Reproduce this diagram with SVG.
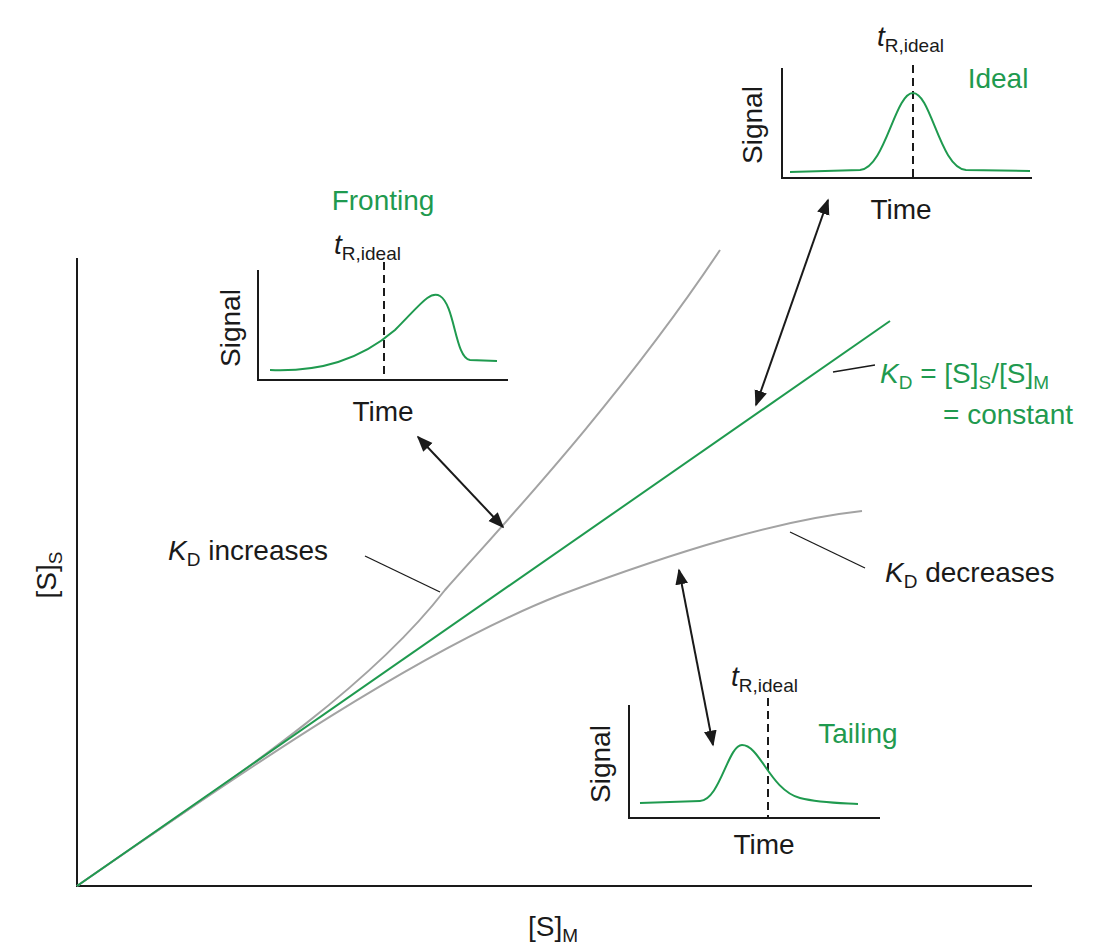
<svg xmlns="http://www.w3.org/2000/svg" width="1106" height="952" viewBox="0 0 1106 952">
<defs>
<marker id="ah" viewBox="0 0 10 10" refX="9" refY="5" markerWidth="8" markerHeight="8" orient="auto-start-reverse"><path d="M0,1 L10,5 L0,9 Z" fill="#1a1a1a"/></marker>
<style>
text{font-family:"Liberation Sans",Arial,sans-serif;font-size:28px;fill:#1a1a1a}
.g{fill:#1f9a4f}
.sub{font-size:19px}
.ax{stroke:#1a1a1a;stroke-width:2;fill:none}
.gc{stroke:#1f9a4f;stroke-width:2;fill:none}
.gr{stroke:#a3a3a3;stroke-width:2;fill:none}
.ds{stroke:#1a1a1a;stroke-width:2;stroke-dasharray:8,5}
.ld{stroke:#1a1a1a;stroke-width:1.3}
.ar{stroke:#1a1a1a;stroke-width:2;marker-start:url(#ah);marker-end:url(#ah)}
</style>
</defs>
<rect width="1106" height="952" fill="#fff"/>
<g id="main-axes">
<path class="ax" d="M77,258 V886 H1032"/>
<text x="553" y="936" text-anchor="middle">[S]<tspan class="sub" dy="6">M</tspan></text>
<text transform="translate(56,575) rotate(-90)" text-anchor="middle">[S]<tspan class="sub" dy="6">S</tspan></text>
</g>
<g id="curves">
<path class="gr" d="M77,886 C200,800 360,700 445,590 C500,528 620,400 720,250"/>
<path class="gr" d="M77,886 C250,766 420,650 560,595 C680,550 780,520 862,511"/>
<path class="gc" d="M77,886 L890,321"/>
</g>
<g id="connectors">
<line class="ld" x1="365" y1="556" x2="440" y2="592"/>
<line class="ld" x1="790" y1="532" x2="865" y2="568"/>
<line class="ld" x1="833" y1="372" x2="875" y2="365"/>
<line class="ar" x1="418" y1="437" x2="503" y2="527"/>
<line class="ar" x1="828" y1="200" x2="756" y2="405"/>
<line class="ar" x1="679" y1="570" x2="713" y2="745"/>
</g>
<g id="label-increases"><text x="168" y="560"><tspan font-style="italic">K</tspan><tspan class="sub" dy="6">D</tspan><tspan dy="-6"> increases</tspan></text></g>
<g id="label-decreases"><text x="885" y="582"><tspan font-style="italic">K</tspan><tspan class="sub" dy="6">D</tspan><tspan dy="-6"> decreases</tspan></text></g>
<g id="label-constant">
<text class="g" x="880" y="383"><tspan font-style="italic" class="g">K</tspan><tspan class="sub g" dy="6">D</tspan><tspan class="g" dy="-6"> = [S]</tspan><tspan class="sub g" dy="6">S</tspan><tspan class="g" dy="-6">/[S]</tspan><tspan class="sub g" dy="6">M</tspan></text>
<text class="g" x="1073" y="424" text-anchor="end">= constant</text>
</g>
<g id="inset-fronting">
<path class="ax" d="M258,270 V380 H508"/>
<line class="ds" x1="384" y1="262" x2="384" y2="380"/>
<path class="gc" d="M270,370 C320,372 360,360 395,330 C420,305 430,290 440,296 C455,305 455,358 470,360 L497,361"/>
<text class="g" x="383" y="210" text-anchor="middle">Fronting</text>
<text x="334" y="254"><tspan font-style="italic">t</tspan><tspan class="sub" dy="6">R,ideal</tspan></text>
<text transform="translate(240,328) rotate(-90)" text-anchor="middle">Signal</text>
<text x="383" y="421" text-anchor="middle">Time</text>
</g>
<g id="inset-ideal">
<path class="ax" d="M782,68 V178 H1032"/>
<line class="ds" x1="913" y1="65" x2="913" y2="178"/>
<path class="gc" d="M790,172 L860,170 C885,168 895,93 913,93 C931,93 940,168 966,170 L1030,171"/>
<text class="g" x="998" y="88" text-anchor="middle">Ideal</text>
<text x="877" y="46"><tspan font-style="italic">t</tspan><tspan class="sub" dy="6">R,ideal</tspan></text>
<text transform="translate(762,125) rotate(-90)" text-anchor="middle">Signal</text>
<text x="901" y="219" text-anchor="middle">Time</text>
</g>
<g id="inset-tailing">
<path class="ax" d="M629,705 V818 H880"/>
<line class="ds" x1="768" y1="698" x2="768" y2="818"/>
<path class="gc" d="M640,803 L700,801 C720,800 728,745 742,745 C760,745 770,790 800,798 C820,803 840,803 858,804"/>
<text class="g" x="858" y="743" text-anchor="middle">Tailing</text>
<text x="731" y="686"><tspan font-style="italic">t</tspan><tspan class="sub" dy="6">R,ideal</tspan></text>
<text transform="translate(610,764) rotate(-90)" text-anchor="middle">Signal</text>
<text x="764" y="854" text-anchor="middle">Time</text>
</g>
</svg>
